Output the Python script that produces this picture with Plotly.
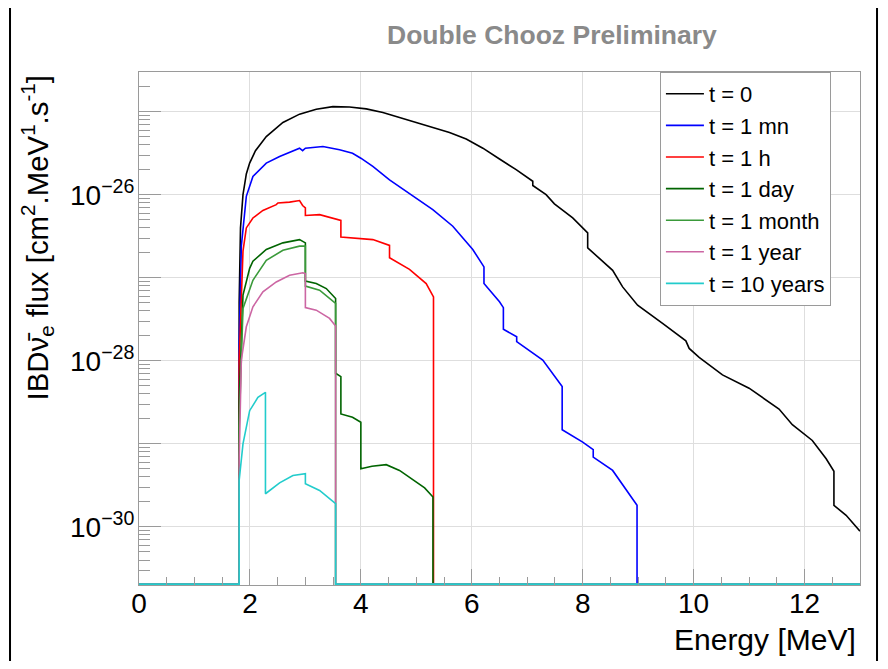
import math
import plotly.graph_objects as go

# ---------------- data ----------------
# Energy [MeV] / IBD flux [cm^2.MeV^1.s^-1]; 0 = empty bin (drawn on the frame bottom)
energy_t0 = [0, 1.806, 1.806, 1.83, 1.875, 1.935, 1.995, 2.1, 2.295, 2.595, 2.895, 3.196, 3.496,
             3.796, 4.097, 4.397, 4.697, 4.998, 5.297, 5.598, 5.9, 6.2, 6.5, 6.8, 7.10, 7.10, 7.34,
             7.49, 7.82, 8.09, 8.09, 8.54, 8.72, 8.99, 9.44, 9.86, 9.92, 10.10, 10.52, 11.0, 11.54,
             11.78, 12.14, 12.39, 12.53, 12.53, 12.75, 13.0]
flux_t0 = [0, 0, 5.01e-28, 3.98e-27, 1.0e-26, 1.78e-26, 2.40e-26, 3.39e-26, 5.01e-26, 7.41e-26,
           9.33e-26, 1.07e-25, 1.15e-25, 1.135e-25, 1.08e-25, 9.77e-26, 8.51e-26, 7.41e-26, 6.46e-26,
           5.62e-26, 4.68e-26, 3.63e-26, 2.69e-26, 2.0e-26, 1.45e-26, 1.29e-26, 1.0e-26, 7.76e-27,
           5.25e-27, 3.47e-27, 2.29e-27, 1.23e-27, 7.76e-28, 4.68e-28, 2.82e-28, 1.74e-28, 1.41e-28,
           1.10e-28, 6.76e-29, 4.68e-29, 2.63e-29, 1.70e-29, 1.10e-29, 6.61e-30, 4.68e-30, 1.82e-30,
           1.38e-30, 8.91e-31]

energy_1mn = [0, 1.806, 1.806, 1.845, 1.935, 2.054, 2.295, 2.535, 2.895, 2.95, 3.0, 3.316, 3.616,
              3.85, 4.0, 4.216, 4.517, 4.937, 5.297, 5.658, 6.018, 6.22, 6.22, 6.5, 6.57, 6.57,
              6.81, 6.81, 7.28, 7.63, 7.63, 8.0, 8.19, 8.19, 8.54, 8.98, 8.98, 13.0]
flux_1mn = [0, 0, 1.58e-28, 2.40e-27, 9.55e-27, 1.66e-26, 2.40e-26, 2.88e-26, 3.63e-26, 3.39e-26,
            3.63e-26, 3.80e-26, 3.47e-26, 3.16e-26, 2.75e-26, 2.19e-26, 1.51e-26, 9.55e-27, 6.61e-27,
            4.17e-27, 2.19e-27, 1.35e-27, 8.51e-28, 5.13e-28, 4.37e-28, 2.40e-28, 1.95e-28, 1.70e-28,
            1.02e-28, 4.90e-29, 1.48e-29, 1.05e-29, 8.51e-30, 6.92e-30, 4.79e-30, 1.82e-30, 0, 0]

energy_1h = [0, 1.806, 1.806, 1.875, 1.935, 2.054, 2.234, 2.475, 2.505, 2.715, 2.895, 2.95, 3.0, 3.0,
             3.256, 3.496, 3.64, 3.64, 4.216, 4.517, 4.517, 4.877, 5.178, 5.31, 5.31, 13.0]
flux_1h = [0, 0, 1.0e-28, 2.09e-27, 3.98e-27, 5.25e-27, 6.46e-27, 7.59e-27, 7.94e-27, 8.13e-27,
           8.51e-27, 7.41e-27, 6.92e-27, 5.62e-27, 5.75e-27, 5.25e-27, 4.90e-27, 3.09e-27, 2.88e-27,
           2.45e-27, 1.74e-27, 1.26e-27, 8.51e-28, 5.89e-28, 0, 0]

energy_1day = [0, 1.806, 1.806, 1.875, 1.995, 2.054, 2.295, 2.595, 2.895, 3.0, 3.0, 3.196, 3.377,
               3.545, 3.545, 3.64, 3.64, 3.85, 4.0, 4.0, 4.2, 4.457, 4.697, 4.95, 5.15, 5.30, 5.30, 13.0]
flux_1day = [0, 0, 3.16e-29, 6.17e-28, 1.30e-27, 1.58e-27, 2.19e-27, 2.63e-27, 2.88e-27, 2.63e-27,
             9.12e-28, 8.51e-28, 7.41e-28, 5.62e-28, 7.08e-29, 6.46e-29, 2.29e-29, 2.09e-29, 1.82e-29,
             5.01e-30, 5.37e-30, 5.62e-30, 4.79e-30, 3.63e-30, 2.95e-30, 2.29e-30, 0, 0]

energy_1month = [0, 1.806, 1.806, 1.875, 2.054, 2.115, 2.295, 2.595, 2.895, 3.0, 3.0, 3.256, 3.545,
                 3.545, 13.0]
flux_1month = [0, 0, 1.58e-29, 4.27e-28, 9.33e-28, 1.07e-27, 1.62e-27, 2.14e-27, 2.40e-27, 2.40e-27,
               7.94e-28, 7.08e-28, 4.90e-28, 0, 0]

energy_1year = [0, 1.806, 1.806, 1.845, 1.935, 2.054, 2.234, 2.475, 2.715, 2.955, 3.0, 3.0, 3.196,
                3.436, 3.545, 3.545, 13.0]
flux_1year = [0, 0, 6.31e-30, 1.02e-28, 2.57e-28, 4.47e-28, 6.76e-28, 8.91e-28, 1.07e-27, 1.15e-27,
              1.12e-27, 4.37e-28, 4.07e-28, 3.24e-28, 2.63e-28, 0, 0]

energy_10years = [0, 1.806, 1.806, 1.875, 1.995, 2.144, 2.28, 2.28, 2.535, 2.775, 3.0, 3.0, 3.256,
                  3.545, 3.545, 13.0]
flux_10years = [0, 0, 3.63e-30, 1.0e-29, 2.51e-29, 3.63e-29, 4.17e-29, 2.51e-30, 3.39e-30, 4.17e-30,
                4.37e-30, 3.31e-30, 2.75e-30, 1.91e-30, 0, 0]

series_names = ["t = 0", "t = 1 mn", "t = 1 h", "t = 1 day", "t = 1 month", "t = 1 year", "t = 10 years"]
series_energy = [energy_t0, energy_1mn, energy_1h, energy_1day, energy_1month, energy_1year, energy_10years]
series_flux = [flux_t0, flux_1mn, flux_1h, flux_1day, flux_1month, flux_1year, flux_10years]
series_colors = ["#000000", "#0000ff", "#ff0000", "#006400", "#3a9a3a", "#cc66a3", "#22cccc"]

x_tick_values = [0, 2, 4, 6, 8, 10, 12]
x_tick_labels = ["0", "2", "4", "6", "8", "10", "12"]
y_decades = [-25, -26, -27, -28, -29, -30]
y_tick_labels = ["", "10<sup>−26</sup>", "", "10<sup>−28</sup>", "", "10<sup>−30</sup>"]

# ---------------- figure ----------------
Y_MIN, Y_MAX = 2e-31, 3e-25
FLOOR = 2.05e-31  # empty bins are drawn on the bottom of the frame (as ROOT does)

fig = go.Figure()
for name, ex, fx, col in zip(series_names, series_energy, series_flux, series_colors):
    fig.add_trace(go.Scatter(
        x=ex, y=[v if v > 0 else FLOOR for v in fx], mode="lines", name=name,
        line=dict(color=col, width=1.6), hoverinfo="skip"))

font_family = "Liberation Sans, Arial, Helvetica, sans-serif"
axis_grey = "#9a9a9a"
grid_grey = "#dedede"

# the page body has an 8 px margin: the figure is offset by (8, 8) and kept inside the window
fig.update_layout(
    width=872, height=653,
    margin=dict(l=131, r=20, t=64, b=76),
    paper_bgcolor="white", plot_bgcolor="white",
    font=dict(family=font_family, color="black"),
    showlegend=True,
    legend=dict(
        x=0.7225, y=1.0, xanchor="left", yanchor="top",
        bgcolor="white", bordercolor="#9a9a9a", borderwidth=1,
        font=dict(size=22, family=font_family, color="black"),
        itemwidth=38, tracegroupgap=0,
    ),
    xaxis=dict(
        range=[0, 13], showgrid=True, gridcolor=grid_grey, gridwidth=1,
        tickvals=x_tick_values, ticktext=x_tick_labels,
        ticks="inside", ticklen=16, tickcolor=axis_grey, tickwidth=1,
        minor=dict(dtick=0.5, ticks="inside", ticklen=8, tickcolor=axis_grey, showgrid=False),
        showline=True, linecolor=axis_grey, linewidth=1, mirror=True,
        tickfont=dict(size=28, family=font_family, color="black"),
        ticklabelstandoff=-7, zeroline=False,
    ),
    yaxis=dict(
        type="log", range=[math.log10(Y_MIN), math.log10(Y_MAX)],
        showgrid=True, gridcolor=grid_grey, gridwidth=1,
        tickvals=[10.0 ** d for d in y_decades], ticktext=y_tick_labels,
        ticks="inside", ticklen=22, tickcolor=axis_grey, tickwidth=1,
        minor=dict(tickvals=[k * 10.0 ** d for d in range(-31, -24) for k in range(2, 10)],
                   ticks="inside", ticklen=11, tickcolor=axis_grey, showgrid=False),
        showline=True, linecolor=axis_grey, linewidth=1, mirror=True,
        tickfont=dict(size=28, family=font_family, color="black"),
        ticklabelstandoff=-2, zeroline=False,
    ),
    annotations=[
        dict(text="<b>Double Chooz Preliminary</b>", xref="paper", yref="paper",
             x=0.5728, y=1.0721, xanchor="center", yanchor="middle", showarrow=False,
             font=dict(size=26.5, color="#8a8a8a", family=font_family)),
        dict(text="Energy [MeV]", xref="paper", yref="paper", x=0.9972, y=-0.1072,
             xanchor="right", yanchor="middle", showarrow=False,
             font=dict(size=30, color="black", family=font_family)),
        dict(text="IBDν̄<sub>e</sub> flux [cm<sup>2</sup>.MeV<sup>1</sup>.s<sup>-1</sup>]",
             xref="paper", yref="paper", x=-0.1415, y=0.998, xanchor="center", yanchor="top",
             textangle=-90, showarrow=False,
             font=dict(size=29.4, color="black", family=font_family)),
    ],
    shapes=[
        dict(type="rect", xref="paper", yref="paper", x0=-0.1789, x1=1.0236, y0=-0.3, y1=1.1306,
             line=dict(color="black", width=2), fillcolor="rgba(0,0,0,0)", layer="above"),
    ],
)

fig.write_html("out.html")
